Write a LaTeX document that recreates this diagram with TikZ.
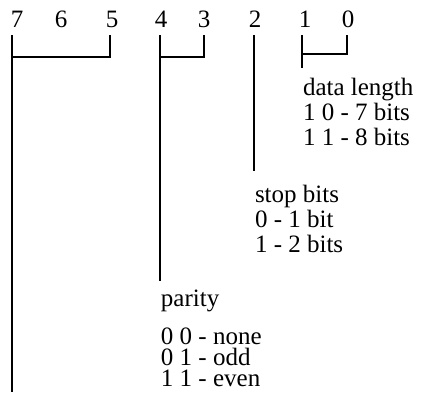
\documentclass[tikz,border=0pt]{standalone}
\usepackage{fontspec}
\setmainfont{Liberation Serif}

\begin{document}
\begin{tikzpicture}[x=0.5pt, y=-0.5pt, line width=1pt,
    bit/.style={inner sep=0pt, anchor=base, font=\fontsize{12.5}{12.5}\selectfont},
    field/.style={inner sep=0pt, anchor=north west, align=left,
      font=\fontsize{12.5}{12.5}\selectfont}]
    \useasboundingbox (0,0) rectangle (424,392);

    % bit numbers
    \node[bit] (b7) at (17,27) {7};
    \node[bit] (b6) at (61,27) {6};
    \node[bit] (b5) at (112,27) {5};
    \node[bit] (b4) at (161,27) {4};
    \node[bit] (b3) at (204,27) {3};
    \node[bit] (b2) at (255,27) {2};
    \node[bit] (b1) at (305,27) {1};
    \node[bit] (b0) at (348,27) {0};

    % field descriptions
    \node[field] (len) at (302,77) {data length\\1 0 - 7 bits\\1 1 - 8 bits};
    \node[field] (stop) at (254,184) {stop bits\\0 - 1 bit\\1 - 2 bits};
    \node[field] (par) at (160,289)
      {parity\\[6.5pt]0 0 - none\\[-2pt]0 1 - odd\\[-2pt]1 1 - even};

    % line ends
    \coordinate (t7) at (12,35);   \coordinate (e7) at (12,392);
    \coordinate (t5) at (110,35);  \coordinate (j7) at (12,57);
    \coordinate (t4) at (160,35);  \coordinate (e4) at (160,281);
    \coordinate (t3) at (204,35);  \coordinate (j4) at (160,57);
    \coordinate (t2) at (254,35);  \coordinate (e2) at (254,171);
    \coordinate (t1) at (302,35);  \coordinate (e1) at (302,68);
    \coordinate (t0) at (347,35);  \coordinate (j1) at (302,54);

    \draw (t7) -- (e7);
    \draw (t5) |- (j7);
    \draw (t4) -- (e4);
    \draw (t3) |- (j4);
    \draw (t2) -- (e2);
    \draw (t1) -- (e1);
    \draw (t0) |- (j1);
\end{tikzpicture}
\end{document}
